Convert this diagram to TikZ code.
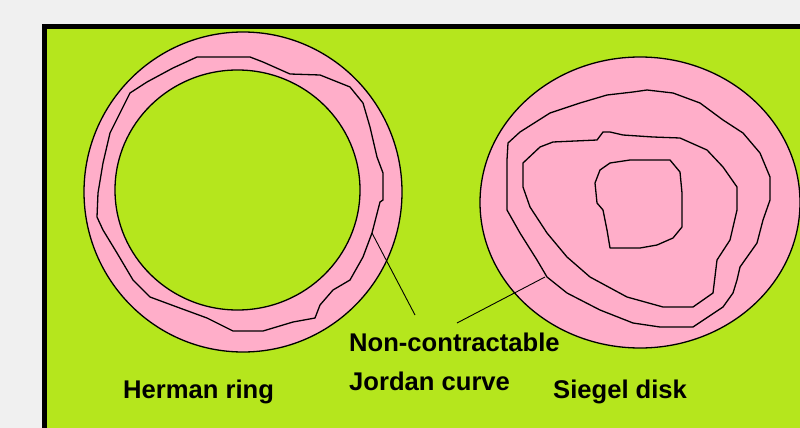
\documentclass[tikz,border=0pt]{standalone}
\usepackage{fontspec}
\setmainfont{Liberation Sans}
\usetikzlibrary{positioning}
\definecolor{JBack}{HTML}{F0F0F0}
\definecolor{JLime}{HTML}{B5E61D}
\definecolor{JRose}{HTML}{FFAEC9}
\definecolor{JInk}{HTML}{000000}
\tikzset{
  frame/.style={draw=JInk,line width=5pt,fill=JLime},
  rim/.style={draw=JInk,line width=1.3pt,fill=JRose},
  hole/.style={draw=JInk,line width=1.3pt,fill=JLime},
  jordan/.style={draw=JInk,line width=1.3pt,line join=round},
  pointer/.style={draw=JInk,line width=0.9pt},
  caption/.style={text=JInk,font=\fontsize{25.6}{30}\selectfont\bfseries,
                  anchor=base west,inner sep=0pt},
}

\begin{document}
\begin{tikzpicture}[x=1pt,y=-1pt]
    \useasboundingbox (0,0) rectangle (800,428);
    \clip (0,0) rectangle (800,428);
    \fill[JBack] (0,0) rectangle (800,428);
    \draw[frame] (44.5,26.5) rectangle (830,460);

    \draw[rim] (243,192) ellipse [x radius=159pt,y radius=160pt];
    \draw[hole] (237.5,190) ellipse [x radius=122.5pt,y radius=120pt];
    \draw[jordan] (227,57) -- (250,57) -- (263,62) -- (290,74) -- (320,75) -- (350,87)
      -- (363,103) -- (370,127) -- (377,157) -- (383,173) -- (383,200) -- (380,202)
      -- (372,233) -- (363,257) -- (350,280) -- (333,290) -- (320,305) -- (315,318)
      -- (293,322) -- (263,331) -- (233,331) -- (207,318) -- (177,307) -- (150,297)
      -- (133,280) -- (117,253) -- (103,230) -- (97,217) -- (98,193) -- (103,163)
      -- (110,133) -- (118,117) -- (130,93) -- (147,82) -- (173,68) -- (197,57) -- cycle;

    \draw[rim] (640,202.5) ellipse [x radius=160pt,y radius=145.5pt];
    \draw[jordan] (633,92) -- (647,90) -- (673,93) -- (700,103) -- (723,120) -- (743,133)
      -- (760,153) -- (770,177) -- (770,200) -- (763,220) -- (757,243) -- (740,267)
      -- (737,280) -- (733,293) -- (723,307) -- (693,327) -- (660,327) -- (633,323)
      -- (600,310) -- (567,293) -- (547,277) -- (537,260) -- (520,233) -- (507,210)
      -- (507,160) -- (508,143) -- (520,132) -- (550,113) -- (580,103) -- (607,95) -- cycle;
    \draw[jordan] (603,132) -- (610,132) -- (623,135) -- (653,137) -- (680,138) -- (707,150)
      -- (723,167) -- (737,187) -- (737,210) -- (730,240) -- (717,260) -- (713,293)
      -- (693,307) -- (663,307) -- (627,297) -- (590,277) -- (567,257) -- (547,233)
      -- (530,207) -- (523,187) -- (523,163) -- (540,147) -- (553,142) -- (597,140) -- cycle;
    \draw[jordan] (610,163) -- (630,160) -- (670,160) -- (680,172) -- (682,193) -- (682,227)
      -- (673,238) -- (657,245) -- (640,248) -- (610,248) -- (607,230) -- (603,210)
      -- (597,203) -- (595,183) -- (600,170) -- cycle;

    \node[caption] (hermanlbl) at (123,398) {Herman ring};
    \node[caption] (jordanlbl) at (349,351) {Non-contractable};
    \node[caption] (jordanlbl2) at (349,390) {Jordan curve};
    \node[caption] (siegellbl) at (553,398) {Siegel disk};

    \coordinate (hermcurve) at (372,233);
    \coordinate (hermend) at (415,315);
    \coordinate (siegcurve) at (545,277);
    \coordinate (siegend) at (457,323);
    \draw[pointer] (hermcurve) -- (hermend);
    \draw[pointer] (siegcurve) -- (siegend);
\end{tikzpicture}
\end{document}
